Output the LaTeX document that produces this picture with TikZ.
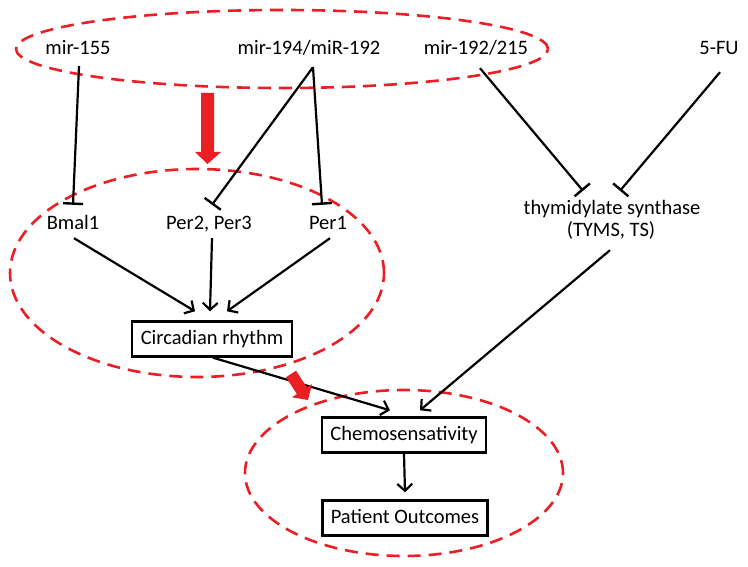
\documentclass[tikz,border=0pt]{standalone}
\usepackage{fontspec}
\setmainfont{Carlito}
\usetikzlibrary{arrows.meta,calc}
\definecolor{dred}{RGB}{235,30,35}
\begin{document}
\begin{tikzpicture}[x=1pt,y=-1pt,
  font=\fontsize{20.5}{24}\selectfont,
  lbl/.style={inner sep=0pt,text height=14pt,text depth=4pt},
  box/.style={draw,line width=2.4pt,inner xsep=8.5pt,inner ysep=0pt,
              text height=14pt,text depth=4pt,minimum height=35pt},
  inh/.style={line width=2.2pt,-{Bar[width=20pt,line width=2.4pt]}},
  act/.style={line width=2.2pt,-{Straight Barb[length=7pt,width=15pt,line width=2.2pt]}},
  grp/.style={draw=dred,line width=2.6pt,dash pattern=on 13pt off 8pt}]
\useasboundingbox (0,0) rectangle (748,567);

% groups
\draw[grp] (282,49) ellipse [x radius=266pt, y radius=39pt];
\draw[grp] (197,273) ellipse [x radius=187pt, y radius=104pt];
\draw[grp] (404,473) ellipse [x radius=159pt, y radius=83pt];

% labels
\node[lbl] (m155) at (78,50) {mir-155};
\node[lbl] (m194) at (309,50) {mir-194/miR-192};
\node[lbl] (m192) at (476,50) {mir-192/215};
\node[lbl] (fu) at (719,50) {5-FU};
\node[lbl] (bmal) at (73,225) {Bmal1};
\node[lbl] (per2) at (209,225) {Per2, Per3};
\node[lbl] (per1) at (328,225) {Per1};
\node[lbl] (ts) at (612,210) {thymidylate synthase};
\node[lbl] (tsb) at (611,232) {(TYMS, TS)};
\node[box] (circ) at (212,339) {Circadian rhythm};
\node[box] (chemo) at (404,435) {Chemosensativity};
\node[box] (pat) at (405,518) {Patient Outcomes};

% inhibitions
\draw[inh] ($(m155.south)+(1,7)$) -- ($(bmal.north)+(0,-11)$);
\draw[inh] ($(m194.south)+(4,8)$) -- ($(per2.north)+(3,-11)$);
\draw[inh] ($(m194.south)+(4,8)$) -- ($(per1.north)+(-6,-11)$);
\draw[inh] ($(m192.south)+(4,9)$) -- ($(ts.north)+(-29,-10)$);
\draw[inh] ($(fu.south)+(1,13)$) -- ($(ts.north)+(8,-10)$);

% activations
\draw[act] ($(bmal.south)+(1,4)$) -- ($(circ.north)+(-17,-9)$);
\draw[act] ($(per2.south)+(3,4)$) -- ($(circ.north)+(-2,-9)$);
\draw[act] ($(per1.south)+(2,4)$) -- ($(circ.north)+(15,-9)$);
\draw[act] ($(circ.south)+(1,0)$) -- ($(chemo.north)+(-14,-6)$);
\draw[act] ($(tsb.south)+(-1,9)$) -- ($(chemo.north)+(16,-6)$);
\draw[act] (chemo.south) -- ($(pat.north)+(0,-7)$);

% red block arrows
\fill[dred] (201,93) -- (214,93) -- (214,152) -- (221,152) -- (207.5,164)
  -- (195,152) -- (201,152) -- cycle;
\fill[dred] (296,370.7) -- (306.9,387.4) -- (311.9,384.1) -- (308,400)
  -- (291.9,397.3) -- (296.9,394) -- (286,377.3) -- cycle;
\end{tikzpicture}
\end{document}
